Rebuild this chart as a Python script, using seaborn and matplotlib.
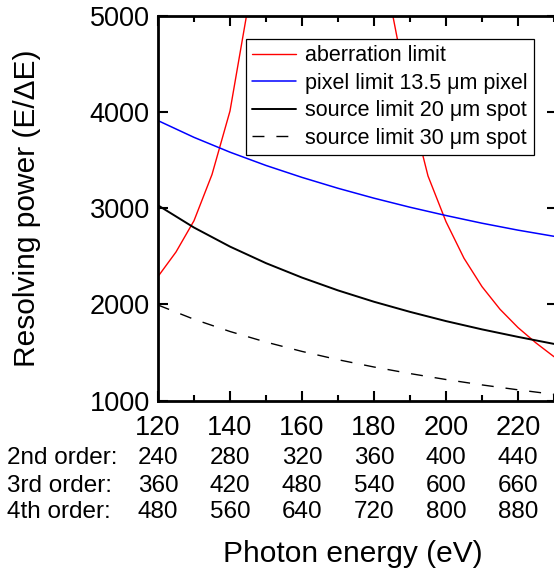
import matplotlib
matplotlib.use("Agg")
import matplotlib.pyplot as plt
import matplotlib.transforms as mtransforms
import seaborn as sns
import pandas as pd

# ---- data ----
energy = [120, 130, 140, 150, 160, 170, 180, 190, 200, 210, 220, 230]
pixel_limit = [3910, 3736, 3582, 3444, 3320, 3207, 3104, 3010, 2924, 2844, 2772, 2708]
source20 = [3030, 2799, 2601, 2429, 2279, 2146, 2028, 1923, 1827, 1741, 1663, 1590]
source30 = [1994, 1846, 1719, 1609, 1512, 1426, 1350, 1282, 1220, 1164, 1113, 1066]

aberr_left_e = [120, 125, 130, 135, 140, 145]
aberr_left_r = [2290, 2545, 2870, 3350, 4010, 5090]
aberr_right_e = [185, 190, 195, 200, 205, 210, 215, 220, 225, 230]
aberr_right_r = [5045, 4080, 3335, 2860, 2480, 2185, 1950, 1760, 1600, 1457]

xticks = [120, 140, 160, 180, 200, 220]
yticks = [1000, 2000, 3000, 4000, 5000]
order_names = ["2nd order:", "3rd order:", "4th order:"]
order2 = ["240", "280", "320", "360", "400", "440"]
order3 = ["360", "420", "480", "540", "600", "660"]
order4 = ["480", "560", "640", "720", "800", "880"]

labels = ["aberration limit", "pixel limit 13.5 \u03bcm pixel",
          "source limit 20 \u03bcm spot", "source limit 30 \u03bcm spot"]

# ---- style ----
sns.set_theme(style="ticks")
plt.rcParams['font.family'] = ['Liberation Sans', 'DejaVu Sans']
plt.rcParams['axes.unicode_minus'] = False
plt.rcParams['text.color'] = 'black'
plt.rcParams['axes.labelcolor'] = 'black'
plt.rcParams['xtick.color'] = 'black'
plt.rcParams['ytick.color'] = 'black'

W, H = 554, 575
fig = plt.figure(figsize=(W / 100, H / 100), dpi=100)
axL, axR, axB, axT = 158, 557, 400.7, 15.7
ax = fig.add_axes([axL / W, 1 - axB / H, (axR - axL) / W, (axB - axT) / H])

df_main = pd.DataFrame({"E": energy, "pix": pixel_limit, "s20": source20, "s30": source30})
dfl = pd.DataFrame({"E": aberr_left_e, "R": aberr_left_r})
dfr = pd.DataFrame({"E": aberr_right_e, "R": aberr_right_r})

sns.lineplot(data=dfl, x="E", y="R", ax=ax, color="#ff0000", lw=1.0, label=labels[0], sort=False)
sns.lineplot(data=dfr, x="E", y="R", ax=ax, color="#ff0000", lw=1.0, label="_nolegend_", sort=False)
sns.lineplot(data=df_main, x="E", y="pix", ax=ax, color="#0000ff", lw=1.1, label=labels[1])
sns.lineplot(data=df_main, x="E", y="s20", ax=ax, color="black", lw=1.4, label=labels[2])
sns.lineplot(data=df_main, x="E", y="s30", ax=ax, color="black", lw=1.0,
             linestyle=(0, (8.6, 8.6)), label=labels[3])

ax.set_xlim(120, 120 + (axR - axL) / 72.0 * 20)
ax.set_ylim(1000, 5000)
ax.set_xticks(xticks)
ax.set_xticks([130, 150, 170, 190, 210, 230], minor=True)
ax.set_yticks(yticks)
ax.set_xticklabels([str(v) for v in xticks])
ax.set_yticklabels([str(v) for v in yticks])

for s in ax.spines.values():
    s.set_linewidth(2.0)
    s.set_color("black")
ax.tick_params(axis="both", which="major", direction="in", length=7.2, width=1.5,
               top=True, right=True, labelsize=19.5, colors="black")
ax.tick_params(axis="both", which="minor", direction="in", length=4, width=1.5,
               top=True, right=True, colors="black")
ax.tick_params(axis="y", which="minor", left=False, right=False)
ax.tick_params(axis="x", which="major", pad=10)
ax.tick_params(axis="y", which="major", pad=6)

ax.set_xlabel("Photon energy (eV)", fontsize=21.5, color="black")
ax.set_ylabel("Resolving power (E/\u0394E)", fontsize=21.5, color="black")
ax.xaxis.set_label_coords((353 - axL) / (axR - axL), (axB - 561.7) / (axB - axT))
ax.xaxis.label.set_va("baseline")
ax.yaxis.set_label_coords((27 - axL) / (axR - axL), 0.5)
ax.yaxis.label.set_va("center")

leg = ax.legend(loc="upper left",
                bbox_to_anchor=((246 - axL) / (axR - axL), (axB - 39) / (axB - axT)),
                borderaxespad=0, fontsize=15.5, frameon=True, fancybox=False,
                edgecolor="black", framealpha=1, handlelength=2.0, handletextpad=0.45,
                labelspacing=0.3, borderpad=0.3)
leg.get_frame().set_linewidth(0.9)
for t in leg.get_texts():
    t.set_color("black")

# order table
trans = mtransforms.blended_transform_factory(ax.transData, fig.transFigure)
baselines = [464.3, 491.7, 518.3]
for name, row, yb in zip(order_names, [order2, order3, order4], baselines):
    fig.text(7.3 / W, 1 - yb / H, name, fontsize=17.5, ha="left", va="baseline", color="black")
    for xv, t in zip(xticks, row):
        ax.text(xv, 1 - yb / H, t, transform=trans, fontsize=17.5, ha="center",
                va="baseline", clip_on=False, color="black")

fig.savefig("out.png", dpi=100)
